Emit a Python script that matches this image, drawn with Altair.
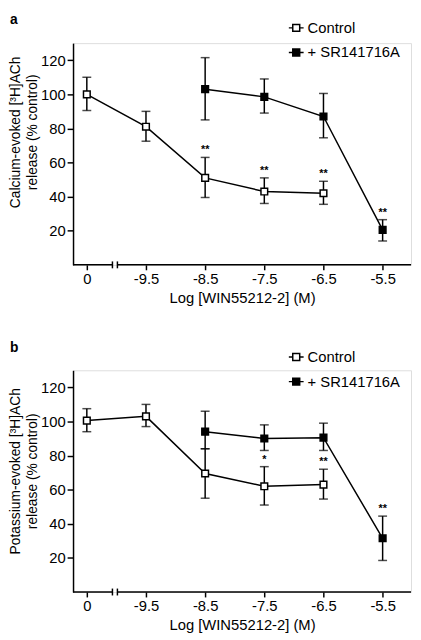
import json
import altair as alt
import pandas as pd

FONT = "Liberation Sans"

# ---- data ----
x_idx = [0, 1, 2, 3, 4, 5]
x_labels = ["0", "-9.5", "-8.5", "-7.5", "-6.5", "-5.5"]
series_names = ["Control", "+ SR141716A"]
y_ticks = [20, 40, 60, 80, 100, 120]

a_ctrl_idx = [0, 1, 2, 3, 4]
a_ctrl_mean = [100, 81, 51, 43, 42]
a_ctrl_lo = [90.5, 72.5, 39.5, 36, 35.5]
a_ctrl_hi = [110, 90, 63, 51, 49]
a_ctrl_star = ["", "", "**", "**", "**"]

a_sr_idx = [2, 3, 4, 5]
a_sr_mean = [103, 98.5, 87, 20.5]
a_sr_lo = [85, 89, 74.5, 14]
a_sr_hi = [121.5, 109, 100.5, 26.5]
a_sr_star = ["", "", "", "**"]

b_ctrl_idx = [0, 1, 2, 3, 4]
b_ctrl_mean = [100.5, 103, 69.5, 62, 63]
b_ctrl_lo = [94, 97, 55, 51, 54.5]
b_ctrl_hi = [107.5, 110, 84, 73.5, 72]
b_ctrl_star = ["", "", "", "*", "**"]

b_sr_idx = [2, 3, 4, 5]
b_sr_mean = [94, 90, 90.5, 31.5]
b_sr_lo = [84, 83, 83, 18.5]
b_sr_hi = [106, 98, 99, 44.5]
b_sr_star = ["", "", "", "**"]

# ---- layout constants ----
W, H = 343, 225
XMIN, XMAX = -0.233, 5.48
BREAK_L, BREAK_R = 0.433, 0.517
SYM = "M-1,0H-0.47M0.47,0H1M-0.47,-0.47H0.47V0.47H-0.47Z"


def make_df(ci, cm, cl, ch, cs, si, sm, sl, sh, ss):
    rows = []
    for i, m, l, h, s in zip(ci, cm, cl, ch, cs):
        rows.append(dict(series=series_names[0], idx=i, mean=m, lo=l, hi=h, star=s))
    for i, m, l, h, s in zip(si, sm, sl, sh, ss):
        rows.append(dict(series=series_names[1], idx=i, mean=m, lo=l, hi=h, star=s))
    return pd.DataFrame(rows)


label_expr = json.dumps(x_labels) + "[round(datum.value)]"


def panel(df, letter, ytitle, title_y, legend_y):
    x_axis = alt.Axis(
        values=x_idx, labelExpr=label_expr, domain=False, grid=False,
        tickSize=5, tickWidth=1.5, tickColor="black",
        labelFont=FONT, labelFontSize=15, labelColor="black", labelPadding=2,
        title="Log [WIN55212-2] (M)", titleFont=FONT, titleFontSize=15,
        titleFontWeight="normal", titleColor="black", titlePadding=4,
    )
    y_axis = alt.Axis(
        values=y_ticks, grid=False, domainColor="black", domainWidth=1.5,
        tickSize=6, tickWidth=1.5, tickColor="black",
        labelFont=FONT, labelFontSize=15, labelColor="black", labelPadding=2,
        title=ytitle, titleFont=FONT, titleFontSize=14, titleFontWeight="normal",
        titleColor="black", titlePadding=1, titleLineHeight=17, titleY=title_y,
    )
    xs = alt.Scale(domain=[XMIN, XMAX], nice=False, zero=False)
    ys = alt.Scale(domain=[0, 130], nice=False, zero=False)

    def X(field="idx"):
        return alt.X(f"{field}:Q", scale=xs, axis=x_axis)

    def Y(field):
        return alt.Y(f"{field}:Q", scale=ys, axis=y_axis)

    def fill_scale():
        return alt.Scale(domain=series_names, range=["white", "black"])

    base = alt.Chart(df)

    axis_df = pd.DataFrame({"idx": [XMIN, BREAK_R], "idx2": [BREAK_L, XMAX]})
    axis_line = alt.Chart(axis_df).mark_rule(color="black", strokeWidth=1.5).encode(
        x=X(), x2="idx2:Q", y=alt.value(H)
    )
    brk_df = pd.DataFrame({"idx": [BREAK_L, BREAK_R]})
    brk = alt.Chart(brk_df).mark_rule(color="black", strokeWidth=1.5).encode(
        x=X(), y=alt.value(H - 3.5), y2=alt.value(H + 3.5)
    )

    err = base.mark_rule(color="black", strokeWidth=1.5).encode(
        x=X(), y=Y("lo"), y2="hi:Q"
    )
    caps = base.transform_fold(["lo", "hi"], as_=["k", "v"]).mark_tick(
        orient="horizontal", size=9, thickness=1.5, color="black"
    ).encode(x=X(), y=Y("v"))

    lines = base.mark_line(color="black", strokeWidth=1.5).encode(
        x=X(), y=Y("mean"), detail="series:N", order="idx:Q"
    )
    squares = base.mark_square(size=46, stroke="black", strokeWidth=1.5, opacity=1).encode(
        x=X(), y=Y("mean"),
        fill=alt.Fill("series:N", scale=fill_scale(), legend=None),
    )
    # legend-only layer (its rows are filtered out) carrying the line+square symbol
    leg = base.transform_filter("datum.idx > 100").mark_point(
        shape=SYM, filled=True, size=225, stroke="black", strokeWidth=1.5, opacity=1
    ).encode(
        x=X(), y=Y("mean"),
        fill=alt.Fill(
            "series:N", scale=fill_scale(),
            legend=alt.Legend(
                title=None, orient="none", legendX=218, legendY=legend_y,
                symbolType=SYM, symbolSize=225, symbolStrokeColor="black",
                symbolStrokeWidth=1.5, symbolOpacity=1, labelFont=FONT,
                labelFontSize=15, labelColor="black", rowPadding=8,
                labelOffset=3, padding=0,
            ),
        ),
    )
    stars = base.transform_filter("datum.star != ''").mark_text(
        font=FONT, fontSize=11, fontWeight="bold", color="black",
        baseline="alphabetic", dy=-4,
    ).encode(x=X(), y=Y("hi"), text="star:N")

    letter_df = pd.DataFrame({"lab": [letter]})
    let = alt.Chart(letter_df).mark_text(
        font=FONT, fontSize=14, fontWeight="bold", color="black",
        align="left", baseline="alphabetic",
    ).encode(x=alt.value(-64), y=alt.value(-19), text="lab:N")

    return alt.layer(
        axis_line, brk, err, caps, lines, squares, leg, stars, let
    ).resolve_scale(fill="independent").properties(width=W, height=H)


df_a = make_df(a_ctrl_idx, a_ctrl_mean, a_ctrl_lo, a_ctrl_hi, a_ctrl_star,
               a_sr_idx, a_sr_mean, a_sr_lo, a_sr_hi, a_sr_star)
df_b = make_df(b_ctrl_idx, b_ctrl_mean, b_ctrl_lo, b_ctrl_hi, b_ctrl_star,
               b_sr_idx, b_sr_mean, b_sr_lo, b_sr_hi, b_sr_star)

pa = panel(df_a, "a", ["Calcium-evoked [³H]ACh", "release (% control)"], 90, -24)
pb = panel(df_b, "b", ["Potassium-evoked [³H]ACh", "release (% control)"], 102, -22)

chart = alt.vconcat(pa, pb, spacing=34).resolve_scale(fill="independent").properties(
    padding=0
).configure_view(stroke=None).configure(background="white")

chart.save("out.html", embed_options={"renderer": "svg", "actions": False})
